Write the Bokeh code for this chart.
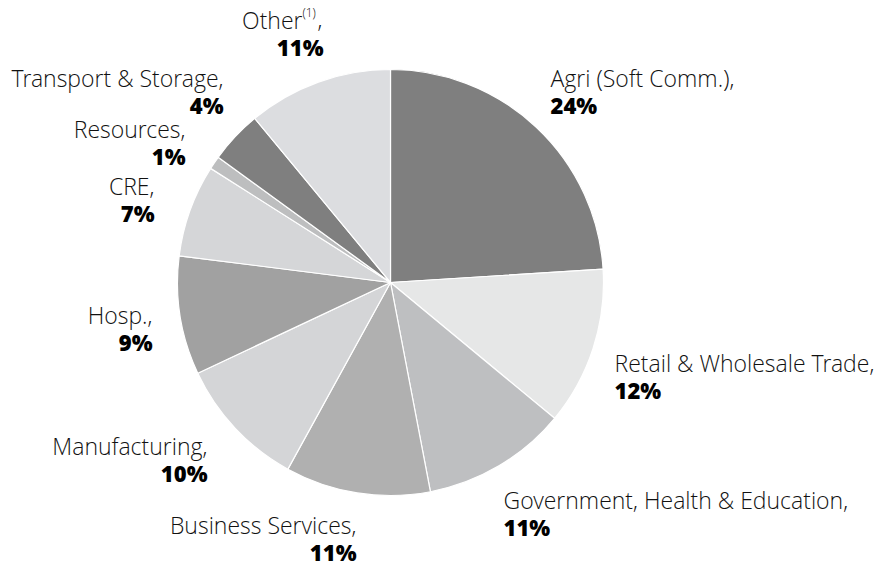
import numpy as np
from bokeh.plotting import figure
from bokeh.models import Range1d, ColumnDataSource
from bokeh.core.properties import value
from bokeh.embed import file_html
from bokeh.resources import INLINE

# ---- data ----
categories = ["Agri (Soft Comm.)", "Retail & Wholesale Trade", "Government, Health & Education",
              "Business Services", "Manufacturing", "Hosp.", "CRE", "Resources",
              "Transport & Storage", "Other"]
shares = [24, 12, 11, 11, 10, 9, 7, 1, 4, 11]
colors = ["#7f7f7f", "#e6e7e7", "#bebfc1", "#b0b0b0", "#d4d5d7",
          "#a1a1a1", "#d5d6d8", "#bdbebf", "#7f7f7f", "#dcdde0"]

# ---- layout (page pixel coords, y measured from top) ----
W, H = 879, 565
cx, cy, R = 390, 282, 213
TEXT_SHIFT = -10
# label anchor: (x, baseline y of name line, align)
label_layout = [
    (550, 87, "left"),
    (614, 372, "left"),
    (503, 509, "left"),
    (356, 534, "right"),
    (207, 455, "right"),
    (152, 324, "right"),
    (154, 195, "right"),
    (185, 138, "right"),
    (223, 87, "right"),
    (323, 29, "right"),
]
LINE_GAP = 27

def Y(y):
    return H - (y + TEXT_SHIFT)

p = figure(width=W, height=H, output_backend="svg", toolbar_location=None,
           x_range=Range1d(0, W), y_range=Range1d(0, H),
           min_border=0)
p.axis.visible = False
p.xgrid.visible = False
p.ygrid.visible = False
p.outline_line_color = None
p.background_fill_color = "white"
p.border_fill_color = "white"

frac = np.array(shares, dtype=float) / sum(shares)
cum = np.concatenate([[0], np.cumsum(frac)])
start = np.pi / 2 - 2 * np.pi * cum[:-1]
end = np.pi / 2 - 2 * np.pi * cum[1:]

src = ColumnDataSource(dict(start=start, end=end, color=colors))
p.wedge(x=cx, y=H - cy, radius=R, start_angle="start", end_angle="end",
        direction="clock", fill_color="color", line_color="white", line_width=1.2,
        source=src)

name_font = value("'Open Sans Light', 'Open Sans'")
pct_font = value("'Open Sans ExtraBold', 'Open Sans'")
txt_color = "#111111"
for cat, sh, (lx, ly, al) in zip(categories, shares, label_layout):
    if cat == "Other":
        p.text(x=[lx - 21], y=[Y(ly)], text=["Other"], text_font=name_font,
               text_font_size="23px", text_align="right", text_baseline="alphabetic",
               text_color=txt_color)
        p.text(x=[lx - 21], y=[Y(ly - 7)], text=["(1)"], text_font=name_font,
               text_font_size="12px", text_align="left", text_baseline="alphabetic",
               text_color=txt_color)
        p.text(x=[lx - 6], y=[Y(ly)], text=[","], text_font=name_font,
               text_font_size="23px", text_align="left", text_baseline="alphabetic",
               text_color=txt_color)
    else:
        p.text(x=[lx], y=[Y(ly)], text=[cat + ","], text_font=name_font,
               text_font_size="23px", text_align=al, text_baseline="alphabetic",
               text_color=txt_color)
    p.text(x=[lx], y=[Y(ly + LINE_GAP)], text=[f"{sh}%"], text_font=pct_font,
           text_font_style="bold", text_font_size="22px", text_align=al,
           text_baseline="alphabetic", text_color="#000000")

open("out.html", "w").write(file_html(p, INLINE))
